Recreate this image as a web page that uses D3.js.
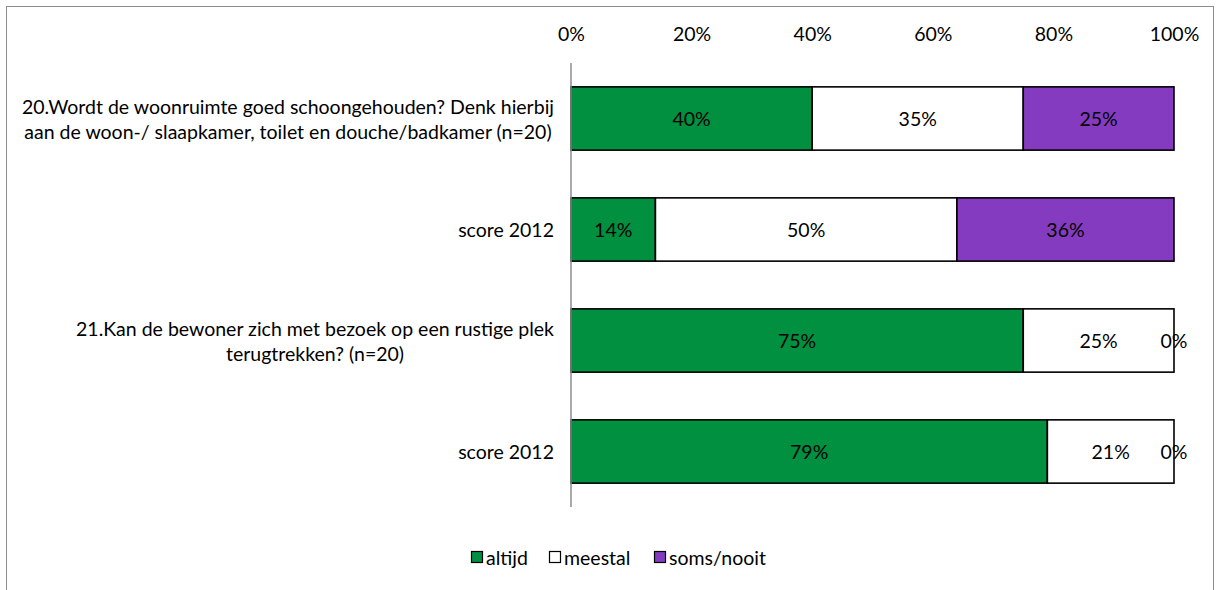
<!DOCTYPE html>
<html>
<head>
<meta charset="utf-8">
<script src="https://cdn.jsdelivr.net/npm/d3@7"></script>
<style>
  html, body { margin: 0; padding: 0; background: #fff; }
  svg { display: block; }
  text { font-family: "Lato", "Open Sans", sans-serif; fill: #000; }
</style>
</head>
<body>
<svg id="chart" width="1216" height="590"></svg>
<script>
// Survey answers per question, shares in percent
const categories = [
  ["20.Wordt de woonruimte goed schoongehouden? Denk hierbij", "aan de woon-/ slaapkamer, toilet en douche/badkamer (n=20)"],
  ["score 2012"],
  ["21.Kan de bewoner zich met bezoek op een rustige plek", "terugtrekken? (n=20)"],
  ["score 2012"]
];
const seriesNames = ["altijd", "meestal", "soms/nooit"];
const altijd = [40, 14, 75, 79];
const meestal = [35, 50, 25, 21];
const somsNooit = [25, 36, 0, 0];
const tickValues = [0, 20, 40, 60, 80, 100];

const colors = ["#009040", "#ffffff", "#843bbf"];
const series = [altijd, meestal, somsNooit];

const svg = d3.select("#chart");
const fontSize = 19.5;

// outer frame
svg.append("rect")
  .attr("x", 6.5).attr("y", 6.5)
  .attr("width", 1207).attr("height", 600)
  .attr("fill", "none").attr("stroke", "#8c8c8c").attr("stroke-width", 1);

const x = d3.scaleLinear().domain([0, 100]).range([571, 1174]);
const y = d3.scaleBand().domain(d3.range(categories.length))
  .range([63, 507]).paddingInner(0.43).paddingOuter(0.215);

// top axis tick labels
const xAxis = d3.axisTop(x).tickValues(tickValues).tickFormat(d => d + "%").tickSize(0).tickPadding(0);
const gx = svg.append("g").attr("transform", "translate(0,41)").call(xAxis);
gx.select(".domain").remove();
gx.selectAll("text").style("font-size", fontSize + "px").style("font-family", "Lato, 'Open Sans', sans-serif").attr("fill", "#000");

// stacked segments
const rows = categories.map((c, i) => {
  let acc = 0;
  return series.map((s, k) => {
    const seg = { row: i, k, x0: acc, x1: acc + s[i], v: s[i] };
    acc += s[i];
    return seg;
  });
});

const bars = svg.append("g");
rows.forEach(segs => {
  bars.selectAll(null).data(segs.filter(d => d.v > 0)).enter().append("rect")
    .attr("x", d => x(d.x0))
    .attr("y", d => y(d.row))
    .attr("width", d => x(d.x1) - x(d.x0))
    .attr("height", y.bandwidth())
    .attr("fill", d => colors[d.k])
    .attr("stroke", "#000").attr("stroke-width", 1.6);
  bars.selectAll(null).data(segs).enter().append("text")
    .attr("x", d => (x(d.x0) + x(d.x1)) / 2)
    .attr("y", d => y(d.row) + y.bandwidth() / 2)
    .attr("text-anchor", "middle").attr("dominant-baseline", "central")
    .style("font-size", fontSize + "px")
    .text(d => d.v + "%");
});

// vertical category axis line
svg.append("line")
  .attr("x1", 571).attr("x2", 571).attr("y1", 63).attr("y2", 507)
  .attr("stroke", "#8c8c8c").attr("stroke-width", 1.5);

// category labels: wrapped lines centred within a block right-aligned to the axis
const labelRight = 554;
const lineH = 25;
categories.forEach((lines, i) => {
  const cy = y(i) + y.bandwidth() / 2;
  const g = svg.append("g");
  const texts = lines.map((t, j) => g.append("text")
    .attr("y", cy + (j - (lines.length - 1) / 2) * lineH)
    .attr("dominant-baseline", "central")
    .attr("text-anchor", "middle")
    .style("font-size", fontSize + "px")
    .text(t));
  const maxW = d3.max(texts, t => t.node().getComputedTextLength());
  texts.forEach(t => t.attr("x", labelRight - maxW / 2));
});

// legend
const legendItems = [
  { name: seriesNames[0], x: 471 },
  { name: seriesNames[1], x: 549 },
  { name: seriesNames[2], x: 654 }
];
const lg = svg.append("g");
legendItems.forEach((d, k) => {
  lg.append("rect").attr("x", d.x + 0.5).attr("y", 551.5).attr("width", 11).attr("height", 11)
    .attr("fill", colors[k]).attr("stroke", "#000").attr("stroke-width", 1.2);
  lg.append("text").attr("x", d.x + 15).attr("y", 557)
    .attr("dominant-baseline", "central")
    .style("font-size", fontSize + "px").text(d.name);
});
</script>
</body>
</html>
